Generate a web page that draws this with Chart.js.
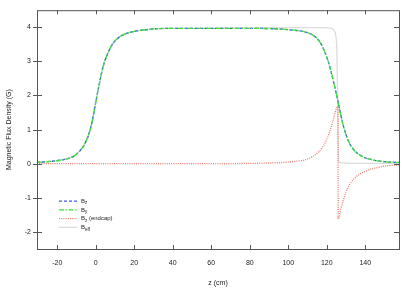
<!DOCTYPE html>
<html>
<head>
<meta charset="utf-8">
<script src="https://cdn.jsdelivr.net/npm/chart.js@4.4.0/dist/chart.umd.min.js"></script>
<style>
  html, body { margin: 0; padding: 0; background: #fff; }
  #wrap { width: 415px; height: 292px; }
</style>
</head>
<body>
<div id="wrap"><canvas id="fluxChart"></canvas></div>
<script>
// z positions (cm) and field values (G)
const zMain = [-30.5, -25, -20, -15, -12, -10, -8, -6, -4, -2, 0, 2, 4, 6, 8, 10, 13, 16, 20, 25, 30, 40, 50, 60, 70, 80, 90, 95, 100, 105, 110, 113, 116, 118, 120, 122, 124, 126, 128, 130, 132, 134, 137, 140, 145, 150, 157.5];
const bzValues = [0.04, 0.06, 0.09, 0.14, 0.2, 0.28, 0.39, 0.55, 0.8, 1.2, 1.8, 2.38, 2.88, 3.2, 3.44, 3.6, 3.74, 3.82, 3.88, 3.92, 3.95, 3.97, 3.97, 3.97, 3.97, 3.97, 3.96, 3.95, 3.93, 3.9, 3.84, 3.76, 3.6, 3.4, 3.12, 2.75, 2.28, 1.78, 1.25, 0.85, 0.58, 0.41, 0.26, 0.17, 0.1, 0.06, 0.035];
const byValues = [0.04, 0.06, 0.09, 0.14, 0.2, 0.28, 0.39, 0.55, 0.8, 1.2, 1.8, 2.38, 2.88, 3.2, 3.44, 3.6, 3.74, 3.82, 3.88, 3.92, 3.95, 3.97, 3.97, 3.97, 3.97, 3.97, 3.96, 3.95, 3.93, 3.9, 3.84, 3.76, 3.6, 3.4, 3.12, 2.75, 2.28, 1.78, 1.25, 0.85, 0.58, 0.41, 0.26, 0.17, 0.1, 0.06, 0.035];

const zEndcap = [-30.5, 60, 80, 90, 95, 100, 105, 108, 110, 113, 116, 118, 120, 122, 123, 124, 125, 125.8, 125.9, 126.3, 127, 128, 129, 130, 132, 134, 137, 140, 145, 150, 157.5];
const bEndcap = [0, 0, 0.01, 0.02, 0.03, 0.05, 0.08, 0.1, 0.14, 0.22, 0.36, 0.5, 0.72, 1.02, 1.22, 1.42, 1.62, 1.7, -1.62, -1.58, -1.4, -1.18, -1.0, -0.82, -0.6, -0.45, -0.31, -0.22, -0.13, -0.07, -0.03];

const zEff = [-30.5, -25, -20, -15, -12, -10, -8, -6, -4, -2, 0, 2, 4, 6, 8, 10, 13, 16, 20, 25, 30, 40, 50, 60, 70, 80, 90, 100, 110, 118, 121, 123, 124, 124.8, 125.3, 125.6, 125.9, 126.2, 127, 130, 140, 157.5];
const bEff = [0.04, 0.06, 0.09, 0.14, 0.2, 0.28, 0.39, 0.55, 0.8, 1.2, 1.8, 2.38, 2.88, 3.2, 3.44, 3.6, 3.74, 3.82, 3.88, 3.92, 3.95, 3.97, 3.97, 3.97, 3.98, 3.98, 3.99, 3.99, 3.99, 3.99, 3.98, 3.95, 3.88, 3.7, 3.2, 2.0, 0.5, 0.08, 0.03, 0.02, 0.01, 0.01];

const xTicks = [-20, 0, 20, 40, 60, 80, 100, 120, 140];
const yTicks = [-2, -1, 0, 1, 2, 3, 4];

const toPoints = (xs, ys) => xs.map((x, i) => ({ x: x, y: ys[i] }));

const FONT = "'Liberation Sans', Arial, Helvetica, sans-serif";
const AXIS_COLOR = "#555";

// gnuplot style frame with tics on all four sides
const framePlugin = {
  id: "frame",
  afterDraw(chart) {
    const { ctx, chartArea: a, scales } = chart;
    ctx.save();
    ctx.strokeStyle = AXIS_COLOR;
    ctx.lineWidth = 1;
    ctx.strokeRect(a.left + 0.5, a.top + 0.5, a.right - a.left, a.bottom - a.top);
    ctx.beginPath();
    xTicks.forEach((v) => {
      const px = Math.round(scales.x.getPixelForValue(v)) + 0.5;
      ctx.moveTo(px, a.bottom);
      ctx.lineTo(px, a.bottom - 4);
      ctx.moveTo(px, a.top);
      ctx.lineTo(px, a.top + 4);
    });
    yTicks.forEach((v) => {
      const py = Math.round(scales.y.getPixelForValue(v)) + 0.5;
      ctx.moveTo(a.left - 4, py);
      ctx.lineTo(a.left + 5, py);
      ctx.moveTo(a.right, py);
      ctx.lineTo(a.right - 5, py);
    });
    ctx.stroke();
    ctx.restore();
  },
};

// legend inside the plot, with subscripts
const legendPlugin = {
  id: "innerLegend",
  afterDraw(chart) {
    const { ctx, chartArea: a } = chart;
    const x0 = a.left + 22;
    const x1 = a.left + 40;
    const tx = a.left + 44;
    let y = a.top + 191;
    ctx.save();
    chart.data.datasets.forEach((ds) => {
      ctx.strokeStyle = ds.borderColor;
      ctx.lineWidth = ds.borderWidth;
      ctx.setLineDash(ds.borderDash || []);
      ctx.beginPath();
      ctx.moveTo(x0, y);
      ctx.lineTo(x1, y);
      ctx.stroke();
      ctx.setLineDash([]);

      const m = ds.label.match(/^(B)_(\S+)(.*)$/);
      ctx.fillStyle = "#222";
      ctx.textBaseline = "middle";
      ctx.font = "6px " + FONT;
      ctx.fillText(m[1], tx, y);
      let cx = tx + ctx.measureText(m[1]).width;
      ctx.font = "4.5px " + FONT;
      ctx.fillText(m[2], cx, y + 2);
      cx += ctx.measureText(m[2]).width;
      ctx.font = "6px " + FONT;
      ctx.fillText(m[3], cx, y);
      y += 8.7;
    });
    ctx.restore();
  },
};

document.addEventListener("DOMContentLoaded", function () {
  const ctx = document.getElementById("fluxChart").getContext("2d");
  new Chart(ctx, {
    type: "scatter",
    data: {
      datasets: [
        {
          label: "B_z",
          data: toPoints(zMain, bzValues),
          borderColor: "#3a55e8",
          borderDash: [3, 2],
          borderWidth: 1.3,
          order: 2,
        },
        {
          label: "B_y",
          data: toPoints(zMain, byValues),
          borderColor: "#3ee03a",
          borderDash: [5, 1.5, 1.5, 1.5],
          borderWidth: 1.3,
          order: 1,
        },
        {
          label: "B_z (endcap)",
          data: toPoints(zEndcap, bEndcap),
          borderColor: "#f07a6a",
          borderDash: [1, 1.2],
          borderWidth: 1.3,
          order: 3,
        },
        {
          label: "B_eff",
          data: toPoints(zEff, bEff),
          borderColor: "#dcdcdc",
          borderWidth: 1.3,
          order: 4,
        },
      ],
    },
    options: {
      responsive: true,
      maintainAspectRatio: false,
      animation: false,
      showLine: true,
      elements: {
        point: { radius: 0, hoverRadius: 0 },
        line: { cubicInterpolationMode: "monotone", fill: false },
      },
      layout: { padding: { top: 10, right: 16, left: 0, bottom: 0 } },
      plugins: {
        legend: { display: false },
        tooltip: { enabled: false },
      },
      scales: {
        x: {
          type: "linear",
          min: -30.5,
          max: 157.5,
          afterBuildTicks: (s) => { s.ticks = xTicks.map((v) => ({ value: v })); },
          afterFit: (s) => { s.height = 43; },
          grid: { display: false, drawTicks: false },
          border: { display: false },
          ticks: {
            color: "#222",
            font: { family: FONT, size: 7 },
            padding: 10,
            maxRotation: 0,
            autoSkip: false,
          },
          title: {
            display: true,
            text: "z (cm)",
            color: "#222",
            font: { family: FONT, size: 7 },
            padding: { top: 0, bottom: 5 },
          },
        },
        y: {
          min: -2.5,
          max: 4.5,
          afterBuildTicks: (s) => { s.ticks = yTicks.map((v) => ({ value: v })); },
          afterFit: (s) => { s.width = 37; },
          grid: { display: false, drawTicks: false },
          border: { display: false },
          ticks: {
            color: "#222",
            font: { family: FONT, size: 7 },
            padding: 6,
          },
          title: {
            display: true,
            text: "Magnetic Flux Density (G)",
            color: "#222",
            font: { family: FONT, size: 7 },
            padding: { top: 5, bottom: 0 },
          },
        },
      },
    },
    plugins: [framePlugin, legendPlugin],
  });
});
</script>
</body>
</html>
